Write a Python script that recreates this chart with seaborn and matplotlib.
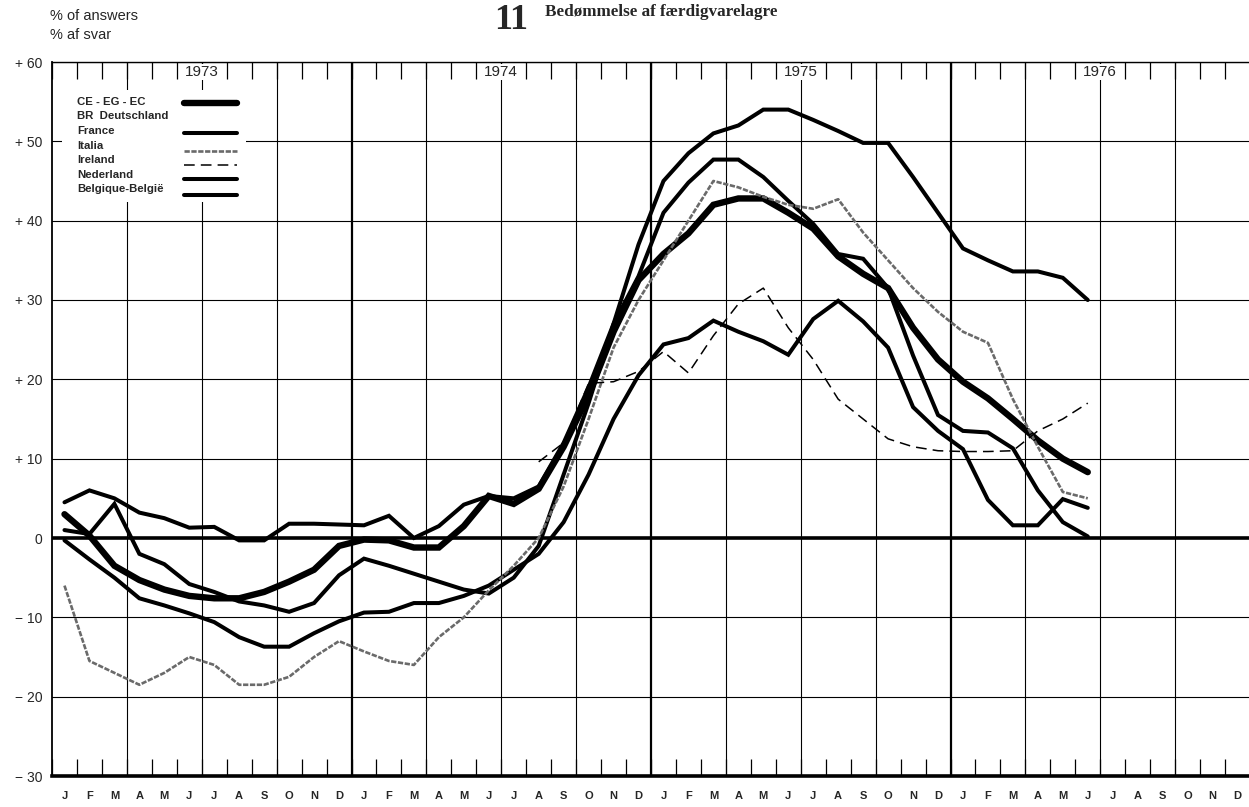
import numpy as np
import pandas as pd
import matplotlib
matplotlib.use("Agg")
import matplotlib.pyplot as plt
import seaborn as sns
from matplotlib.lines import Line2D
from matplotlib.patches import Rectangle
import matplotlib.transforms as mtransforms

# ---------------- data (Jan 1973 .. Jun 1976) ----------------
month_labels = list("JFMAMJJASOND") * 4
year_labels = ["1973", "1974", "1975", "1976"]
y_tick_labels = ["\u2212 30", "\u2212 20", "\u2212 10", "0", "+ 10", "+ 20", "+ 30", "+ 40", "+ 50", "+ 60"]

ce_eg_ec = [3.0, 0.3, -3.5, -5.3, -6.5, -7.3, -7.6, -7.6, -6.8, -5.5, -4.0, -1.0,
            -0.2, -0.3, -1.2, -1.2, 1.5, 5.3, 4.3, 6.2, 11.5, 18.0, 26.0, 32.5,
            35.8, 38.4, 42.0, 42.8, 42.8, 41.0, 39.0, 35.5, 33.3, 31.5, 26.5, 22.5,
            19.7, 17.6, 15.0, 12.3, 10.0, 8.3]
france = [1.0, 0.5, 4.3, -2.0, -3.3, -5.8, -6.8, -8.0, -8.5, -9.3, -8.2, -4.7,
          -2.6, -3.5, -4.5, -5.5, -6.5, -7.0, -5.0, -1.0, 8.0, 17.0, 27.0, 37.0,
          45.0, 48.5, 51.0, 52.0, 54.0, 54.0, 52.7, 51.3, 49.8, 49.8, 45.5, 41.0,
          36.5, 35.0, 33.6, 33.6, 32.8, 30.0]
italia = [-6.0, -15.5, -17.0, -18.5, -17.0, -15.0, -16.0, -18.5, -18.5, -17.5, -15.0, -13.0,
          -14.3, -15.5, -16.0, -12.5, -10.0, -6.6, -3.5, 0.0, 6.5, 15.0, 24.0, 30.0,
          35.0, 40.0, 45.0, 44.2, 43.0, 42.0, 41.5, 42.7, 38.5, 35.0, 31.5, 28.5,
          26.0, 24.6, 17.5, 11.5, 5.8, 5.0]
ireland = [np.nan] * 19 + [9.6, 12.0, 19.5, 19.7, 21.0,
           23.5, 20.8, 25.5, 29.5, 31.5, 26.5, 22.5, 17.5, 15.0, 12.5, 11.5, 11.0,
           10.9, 10.9, 11.0, 13.5, 15.0, 17.0]
nederland = [4.5, 6.0, 5.0, 3.2, 2.5, 1.3, 1.4, -0.3, -0.3, 1.8, 1.8, 1.7,
             1.6, 2.8, 0.0, 1.5, 4.2, 5.3, 5.0, 6.5, 12.0, 19.0, 27.0, 33.0,
             41.0, 44.8, 47.7, 47.7, 45.5, 42.5, 39.6, 35.8, 35.2, 31.5, 23.0, 15.5,
             13.5, 13.3, 11.3, 6.0, 2.0, 0.2]
belgique = [-0.3, -2.7, -5.0, -7.6, -8.5, -9.5, -10.6, -12.5, -13.7, -13.7, -12.0, -10.5,
            -9.4, -9.3, -8.2, -8.2, -7.3, -6.0, -4.0, -2.0, 2.0, 8.0, 15.0, 20.5,
            24.4, 25.2, 27.4, 26.0, 24.8, 23.1, 27.6, 29.9, 27.3, 24.0, 16.5, 13.5,
            11.2, 4.8, 1.6, 1.6, 4.9, 3.8]

series_names = ["CE - EG - EC", "BR  Deutschland", "France", "Italia", "Ireland",
                "Nederland", "Belgique-Belgi\u00eb"]

# ---------------- figure ----------------
sns.set_theme(style="white")
plt.rcParams["font.family"] = ["Liberation Sans", "DejaVu Sans"]

W, H = 1249, 807
fig = plt.figure(figsize=(W / 100, H / 100), dpi=100)
x0, x1, ytop, ybot = 52, 1250, 62, 776
ax = fig.add_axes([x0 / W, 1 - ybot / H, (x1 - x0) / W, (ybot - ytop) / H])
ax.set_xlim(0, 48)
ax.set_ylim(-30, 60)

# grid
for v in range(-20, 61, 10):
    ax.axhline(v, color="black", lw=2.6 if v == 0 else 0.8, zorder=1)
for q in range(3, 48, 3):
    ax.axvline(q, color="black", lw=1.6 if q % 12 == 0 else 0.8, zorder=1)

n = len(ce_eg_ec)
xs = np.arange(n) + 0.5
styles = [
    (ce_eg_ec, dict(color="black", lw=4.6)),
    (france, dict(color="black", lw=2.9)),
    (nederland, dict(color="black", lw=2.9)),
    (belgique, dict(color="black", lw=2.9)),
    (italia, dict(color="#6a6a6a", lw=1.9, linestyle=(0, (2, 0.6)))),
    (ireland, dict(color="black", lw=1.1, linestyle=(0, (7, 4)))),
]
for vals, kw in styles:
    df = pd.DataFrame({"x": xs, "y": vals}).dropna()
    sns.lineplot(data=df, x="x", y="y", ax=ax, sort=False, zorder=3,
                 solid_joinstyle="miter", **kw)

ax.set_xlabel("")
ax.set_ylabel("")

# spines
ax.spines["right"].set_visible(False)
ax.spines["left"].set_linewidth(1.3)
ax.spines["top"].set_linewidth(1.0)
ax.spines["bottom"].set_linewidth(2.6)
for s in ["left", "top", "bottom"]:
    ax.spines[s].set_color("black")

# ticks
ax.set_xticks(np.arange(0, 49))
ax.set_xticklabels([])
ax.set_xticks(np.arange(48) + 0.5, minor=True)
ax.set_xticklabels(month_labels, minor=True, fontsize=8, fontweight="bold")
ax.tick_params(axis="x", which="major", direction="in", top=True, bottom=True,
               length=12, width=0.9, color="black")
ax.tick_params(axis="x", which="minor", length=0, pad=10.5)
ax.set_yticks(range(-30, 61, 10))
ax.set_yticklabels(y_tick_labels, fontsize=10)
ax.tick_params(axis="y", length=0, pad=7)

# year labels on top
trans = mtransforms.blended_transform_factory(ax.transData, ax.transAxes)
for k, yl in enumerate(year_labels):
    ax.text(6 + 12 * k, 0.986, yl, transform=trans, ha="center", va="center",
            fontsize=11, zorder=6,
            bbox=dict(facecolor="white", edgecolor="none", pad=1.0))

# legend (manual)
def ax_xy(px, py):
    return ((px - x0) / (x1 - x0), (ybot - py) / (ybot - ytop))

lx, ly = ax_xy(62, 90)
rx, ry = ax_xy(246, 202)
ax.add_patch(Rectangle((lx, ry), rx - lx, ly - ry, transform=ax.transAxes,
                       facecolor="white", edgecolor="none", zorder=5))
text_rows = [102, 116, 131, 146, 160, 175, 189]
for name, py in zip(series_names, text_rows):
    tx, ty = ax_xy(77, py)
    ax.text(tx, ty, name, transform=ax.transAxes, ha="left", va="center",
            fontsize=8.2, fontweight="bold", zorder=6)
samples = [
    (103, dict(color="black", lw=4.6)),
    (133, dict(color="black", lw=2.9)),
    (151, dict(color="#6a6a6a", lw=1.9, linestyle=(0, (2, 0.6)))),
    (165, dict(color="black", lw=1.1, linestyle=(0, (7, 4)))),
    (179, dict(color="black", lw=2.9)),
    (195, dict(color="black", lw=2.9)),
]
for py, kw in samples:
    sx0, sy = ax_xy(184, py)
    sx1, _ = ax_xy(237, py)
    ax.add_line(Line2D([sx0, sx1], [sy, sy], transform=ax.transAxes, zorder=6, **kw))

# texts above the plot
fig.text(50 / W, 1 - 16 / H, "% of answers", fontsize=10.5, ha="left", va="center")
fig.text(50 / W, 1 - 35 / H, "% af svar", fontsize=10.5, ha="left", va="center")
fig.text(528 / W, 1 - 29 / H, "11", fontsize=26, fontweight="bold", ha="right",
         va="baseline", family=["Liberation Serif", "DejaVu Serif"])
fig.text(545 / W, 1 - 12 / H, "Bed\u00f8mmelse af f\u00e6rdigvarelagre", fontsize=12.3,
         fontweight="bold", ha="left", va="center",
         family=["Liberation Serif", "DejaVu Serif"])

fig.savefig("out.png", dpi=100, facecolor="white")
